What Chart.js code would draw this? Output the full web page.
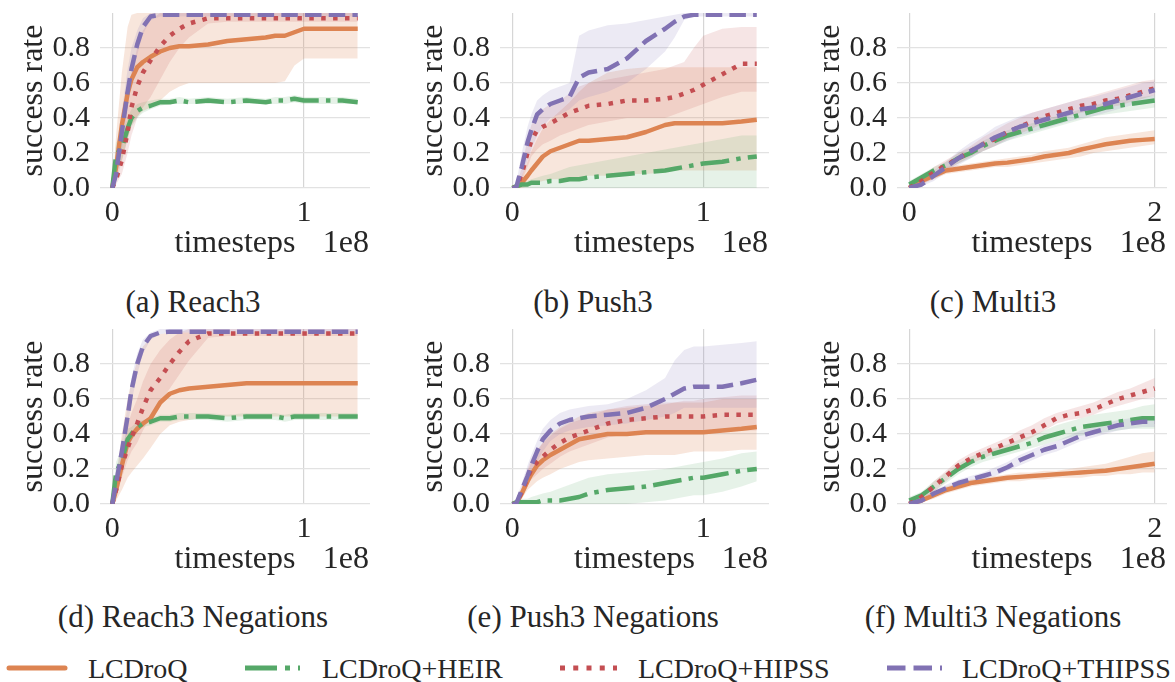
<!DOCTYPE html>
<html>
<head>
<meta charset="utf-8">
<script src="https://cdn.jsdelivr.net/npm/chart.js@4.4.0/dist/chart.umd.min.js"></script>
<style>
  body { margin: 0; background: #fff; width: 1175px; height: 682px; position: relative; overflow: hidden;
         font-family: 'Liberation Serif', 'DejaVu Serif', serif; color: #262626; }
  .cap { position: absolute; width: 400px; text-align: center; font-size: 31px; line-height: 31px; white-space: nowrap; }
  .leg { position: absolute; top: 655px; font-size: 28px; line-height: 28px; white-space: nowrap; }
  svg.key { position: absolute; left: 0; top: 658px; }
</style>
</head>
<body>

<div class="cap" style="left:-7px;top:286px">(a) Reach3</div>
<div class="cap" style="left:393px;top:286px">(b) Push3</div>
<div class="cap" style="left:793px;top:286px">(c) Multi3</div>
<div class="cap" style="left:-7px;top:601px">(d) Reach3 Negations</div>
<div class="cap" style="left:393px;top:601px">(e) Push3 Negations</div>
<div class="cap" style="left:793px;top:601px">(f) Multi3 Negations</div>

<svg class="key" width="1175" height="20">
  <line x1="9" y1="10" x2="65" y2="10" stroke="#dd8452" stroke-width="5" stroke-linecap="round"/>
  <line x1="245" y1="10" x2="300" y2="10" stroke="#55a868" stroke-width="5" stroke-dasharray="32 8 5 8"/>
  <line x1="560" y1="10" x2="617" y2="10" stroke="#c44e52" stroke-width="5" stroke-dasharray="5 8.25"/>
  <line x1="887" y1="10" x2="942" y2="10" stroke="#8172b3" stroke-width="5" stroke-dasharray="18.5 8"/>
</svg>
<div class="leg" style="left:88px">LCDroQ</div>
<div class="leg" style="left:322px">LCDroQ+HEIR</div>
<div class="leg" style="left:638px">LCDroQ+HIPSS</div>
<div class="leg" style="left:962px">LCDroQ+THIPSS</div>

<script>
// timesteps in units of 1e8
var steps = [0, 0.02, 0.05, 0.08, 0.1, 0.13, 0.16, 0.2, 0.25, 0.3, 0.35, 0.4, 0.5, 0.6, 0.7, 0.8, 0.85, 0.9, 0.95, 1.0, 1.1, 1.2, 1.28];
var stepsMulti = [0, 0.1, 0.2, 0.3, 0.4, 0.5, 0.6, 0.7, 0.8, 0.9, 1.0, 1.1, 1.2, 1.3, 1.4, 1.5, 1.6, 1.7, 1.8, 1.9, 2.0];
var yTicks = [0, 0.2, 0.4, 0.6, 0.8];
var methods = ['LCDroQ', 'LCDroQ+HEIR', 'LCDroQ+HIPSS', 'LCDroQ+THIPSS'];

// (a) Reach3
var reachLcd      = [0, .12, .36, .54, .62, .69, .72, .75, .78, .80, .81, .81, .82, .84, .85, .86, .87, .87, .89, .91, .91, .91, .91];
var reachLcdLo    = [0, .04, .15, .28, .36, .41, .44, .46, .50, .55, .58, .60, .60, .60, .60, .60, .60, .61, .70, .74, .74, .74, .74];
var reachLcdHi    = [0, .30, .66, .92, .99, 1, 1, 1, 1, 1, 1, 1, 1, 1, 1, 1, 1, 1, 1, 1, 1, 1, 1];
var reachHeir     = [0, .19, .23, .34, .40, .44, .46, .47, .49, .49, .50, .49, .50, .49, .50, .49, .50, .50, .51, .50, .50, .50, .49];
var reachHeirLo   = [0, .10, .16, .28, .35, .40, .43, .45, .47, .48, .48, .48, .48, .48, .48, .48, .48, .48, .49, .48, .48, .48, .48];
var reachHeirHi   = [0, .26, .30, .40, .45, .48, .49, .50, .51, .51, .52, .51, .52, .51, .52, .51, .52, .52, .53, .52, .52, .52, .51];
var reachHipss    = [0, .05, .16, .32, .46, .58, .66, .73, .81, .87, .91, .94, .97, .97, .97, .97, .97, .97, .97, .97, .97, .97, .97];
var reachHipssLo  = [0, .02, .08, .20, .30, .40, .46, .52, .62, .72, .80, .86, .94, .95, .95, .95, .95, .95, .95, .95, .95, .95, .95];
var reachHipssHi  = [0, .10, .28, .50, .66, .80, .90, .96, 1, 1, 1, 1, 1, 1, 1, 1, 1, 1, 1, 1, 1, 1, 1];
var reachThipss   = [0, .08, .32, .55, .68, .82, .92, .98, .99, .99, .99, .99, .99, .99, .99, .99, .99, .99, .99, .99, .99, .99, .99];
var reachThipssLo = [0, .04, .22, .45, .60, .76, .88, .96, .98, .98, .98, .98, .98, .98, .98, .98, .98, .98, .98, .98, .98, .98, .98];
var reachThipssHi = [0, .14, .44, .68, .80, .90, .97, 1, 1, 1, 1, 1, 1, 1, 1, 1, 1, 1, 1, 1, 1, 1, 1];

// (b) Push3
var pushLcd      = [0, 0, .03, .07, .10, .14, .18, .21, .23, .25, .27, .27, .28, .29, .32, .36, .37, .37, .37, .37, .37, .38, .39];
var pushLcdLo    = [0, 0, 0, .01, .02, .03, .04, .05, .05, .06, .06, .07, .07, .08, .08, .09, .10, .10, .10, .10, .10, .10, .10];
var pushLcdHi    = [0, 0, .07, .15, .21, .28, .34, .39, .44, .49, .55, .60, .66, .68, .69, .69, .69, .69, .69, .69, .69, .69, .69];
var pushHeir     = [0, .01, .02, .02, .03, .03, .03, .04, .04, .05, .05, .06, .07, .08, .09, .10, .11, .12, .13, .14, .15, .17, .18];
var pushHeirLo   = [0, 0, 0, 0, 0, 0, 0, 0, 0, 0, 0, 0, 0, 0, 0, 0, 0, 0, 0, 0, 0, 0, 0];
var pushHeirHi   = [0, .02, .03, .04, .05, .06, .07, .08, .10, .12, .13, .14, .16, .18, .20, .22, .23, .24, .25, .26, .28, .30, .30];
var pushHipss    = [0, 0, .08, .20, .27, .33, .35, .37, .40, .43, .45, .47, .48, .50, .50, .51, .52, .54, .56, .59, .65, .71, .71];
var pushHipssLo  = [0, 0, .04, .12, .18, .22, .25, .27, .30, .32, .34, .36, .38, .40, .40, .40, .42, .44, .46, .48, .52, .55, .55];
var pushHipssHi  = [0, 0, .12, .28, .36, .42, .45, .48, .50, .54, .58, .60, .62, .64, .66, .68, .70, .72, .80, .87, .91, .92, .92];
var pushThipss   = [0, 0, .12, .26, .33, .42, .45, .48, .50, .52, .63, .66, .68, .74, .84, .91, .95, .98, .99, .99, .99, .99, .99];
var pushThipssLo = [0, 0, .06, .16, .22, .30, .35, .40, .42, .45, .50, .52, .55, .60, .68, .78, .86, .96, .98, .98, .98, .98, .98];
var pushThipssHi = [0, .02, .20, .35, .42, .50, .53, .56, .58, .60, .87, .90, .93, .94, .96, .98, .99, 1, 1, 1, 1, 1, 1];

// (c) Multi3
var multiLcd      = [0, .04, .07, .10, .11, .12, .13, .14, .145, .155, .165, .18, .19, .20, .22, .235, .25, .26, .27, .275, .28];
var multiLcdLo    = [0, .02, .05, .08, .09, .10, .11, .12, .12, .13, .14, .15, .16, .17, .18, .20, .21, .22, .23, .24, .25];
var multiLcdHi    = [0, .06, .09, .12, .13, .14, .15, .16, .17, .18, .19, .21, .22, .23, .25, .27, .29, .30, .31, .32, .33];
var multiHeir     = [.02, .06, .10, .13, .17, .20, .24, .27, .30, .32, .34, .36, .38, .40, .42, .44, .46, .47, .48, .49, .50];
var multiHeirLo   = [0, .04, .08, .11, .14, .17, .21, .24, .27, .29, .31, .33, .35, .37, .39, .41, .42, .43, .44, .45, .46];
var multiHeirHi   = [.04, .08, .12, .15, .20, .23, .27, .30, .33, .35, .37, .39, .41, .43, .45, .47, .49, .50, .51, .52, .53];
var multiHipss    = [0, .04, .09, .13, .17, .21, .25, .28, .32, .35, .38, .41, .43, .45, .47, .48, .50, .51, .53, .55, .57];
var multiHipssLo  = [0, .02, .06, .10, .14, .18, .21, .24, .28, .31, .34, .37, .39, .41, .43, .44, .46, .47, .49, .51, .53];
var multiHipssHi  = [0, .06, .12, .16, .20, .24, .29, .33, .37, .40, .43, .45, .47, .49, .51, .53, .55, .57, .59, .61, .62];
var multiThipss   = [0, .02, .07, .12, .17, .21, .25, .29, .32, .35, .37, .39, .41, .43, .45, .46, .48, .50, .52, .54, .56];
var multiThipssLo = [0, .01, .04, .09, .13, .17, .21, .24, .27, .30, .32, .34, .36, .38, .40, .41, .43, .45, .47, .49, .51];
var multiThipssHi = [0, .04, .10, .15, .21, .26, .30, .35, .38, .41, .43, .45, .47, .49, .51, .52, .54, .56, .58, .60, .61];

// (d) Reach3 Negations
var reachNegLcd      = [0, .08, .22, .35, .39, .43, .46, .49, .58, .63, .65, .66, .67, .68, .69, .69, .69, .69, .69, .69, .69, .69, .69];
var reachNegLcdLo    = [0, .02, .08, .15, .18, .22, .26, .32, .40, .45, .47, .48, .50, .50, .50, .50, .50, .50, .50, .50, .50, .50, .50];
var reachNegLcdHi    = [0, .15, .40, .60, .70, .82, .90, .95, .97, .98, .98, .98, .98, .98, .98, .98, .98, .98, .98, .98, .98, .98, .98];
var reachNegHeir     = [0, .18, .25, .37, .40, .44, .46, .47, .49, .49, .50, .50, .50, .49, .50, .50, .50, .49, .50, .50, .50, .50, .50];
var reachNegHeirLo   = [0, .12, .18, .31, .36, .41, .44, .45, .47, .47, .48, .48, .48, .47, .48, .48, .48, .47, .48, .48, .48, .48, .48];
var reachNegHeirHi   = [0, .24, .32, .43, .44, .47, .48, .49, .51, .51, .52, .52, .52, .51, .52, .52, .52, .51, .52, .52, .52, .52, .52];
var reachNegHipss    = [0, .08, .22, .32, .38, .46, .55, .65, .72, .80, .87, .93, .975, .975, .975, .975, .975, .975, .975, .975, .975, .975, .975];
var reachNegHipssLo  = [0, .04, .15, .25, .30, .35, .42, .50, .58, .66, .74, .82, .95, .96, .96, .96, .96, .96, .96, .96, .96, .96, .96];
var reachNegHipssHi  = [0, .12, .30, .45, .52, .60, .70, .80, .88, .94, .98, 1, 1, 1, 1, 1, 1, 1, 1, 1, 1, 1, 1];
var reachNegThipss   = [0, .12, .30, .50, .65, .80, .90, .96, .98, .985, .985, .985, .985, .985, .985, .985, .985, .985, .985, .985, .985, .985, .985];
var reachNegThipssLo = [0, .08, .24, .44, .58, .74, .86, .94, .97, .98, .98, .98, .98, .98, .98, .98, .98, .98, .98, .98, .98, .98, .98];
var reachNegThipssHi = [0, .16, .36, .56, .72, .86, .94, .98, 1, 1, 1, 1, 1, 1, 1, 1, 1, 1, 1, 1, 1, 1, 1];

// (e) Push3 Negations
var pushNegLcd      = [0, 0, .06, .13, .17, .22, .25, .28, .31, .34, .37, .38, .40, .40, .41, .41, .41, .41, .41, .41, .42, .43, .44];
var pushNegLcdLo    = [0, 0, .03, .08, .10, .13, .15, .17, .20, .22, .24, .25, .26, .27, .28, .28, .28, .29, .30, .30, .30, .31, .31];
var pushNegLcdHi    = [0, 0, .09, .18, .24, .30, .35, .40, .44, .47, .50, .52, .54, .55, .56, .57, .58, .58, .58, .58, .60, .60, .60];
var pushNegHeir     = [0, .01, .01, .01, .01, .01, .02, .02, .02, .03, .04, .06, .08, .09, .10, .12, .13, .14, .15, .15, .17, .19, .20];
var pushNegHeirLo   = [0, 0, 0, 0, 0, 0, 0, 0, 0, 0, 0, 0, 0, 0, .01, .02, .03, .04, .05, .05, .07, .10, .13];
var pushNegHeirHi   = [0, .02, .03, .03, .04, .05, .06, .07, .09, .11, .13, .15, .17, .18, .19, .20, .21, .22, .23, .24, .26, .29, .30];
var pushNegHipss    = [0, 0, .07, .15, .20, .24, .27, .31, .35, .38, .40, .42, .46, .48, .49, .50, .50, .50, .50, .50, .51, .51, .51];
var pushNegHipssLo  = [0, 0, .04, .10, .14, .17, .20, .23, .27, .30, .32, .34, .38, .40, .41, .42, .42, .42, .42, .42, .42, .42, .42];
var pushNegHipssHi  = [0, 0, .10, .20, .26, .31, .35, .39, .43, .46, .48, .50, .54, .56, .57, .58, .58, .59, .59, .60, .61, .62, .62];
var pushNegThipss   = [0, 0, .08, .16, .22, .30, .37, .42, .46, .48, .49, .50, .51, .52, .55, .60, .63, .66, .67, .67, .67, .69, .71];
var pushNegThipssLo = [0, 0, .05, .12, .17, .24, .30, .36, .40, .42, .43, .44, .45, .46, .48, .50, .52, .55, .55, .55, .55, .55, .55];
var pushNegThipssHi = [0, .02, .12, .22, .28, .36, .43, .48, .52, .54, .55, .56, .57, .60, .65, .72, .82, .88, .90, .90, .91, .92, .93];

// (f) Multi3 Negations
var multiNegLcd      = [0, .02, .05, .08, .10, .12, .13, .14, .15, .155, .16, .165, .17, .175, .18, .185, .19, .20, .21, .22, .23];
var multiNegLcdLo    = [0, .01, .03, .06, .08, .10, .11, .12, .13, .13, .14, .14, .15, .15, .15, .16, .16, .17, .17, .18, .18];
var multiNegLcdHi    = [0, .04, .07, .10, .12, .14, .15, .16, .17, .18, .18, .19, .19, .20, .21, .22, .23, .25, .27, .29, .30];
var multiNegHeir     = [.02, .05, .10, .15, .20, .24, .27, .29, .31, .33, .35, .38, .40, .42, .44, .45, .46, .47, .48, .49, .49];
var multiNegHeirLo   = [0, .03, .07, .12, .17, .21, .24, .26, .28, .30, .32, .34, .36, .38, .39, .40, .41, .42, .43, .43, .43];
var multiNegHeirHi   = [.04, .07, .13, .18, .23, .27, .30, .32, .34, .37, .39, .42, .45, .47, .49, .51, .52, .53, .54, .56, .57];
var multiNegHipss    = [0, .04, .10, .16, .22, .26, .29, .32, .35, .38, .41, .45, .49, .51, .52, .54, .57, .60, .62, .64, .66];
var multiNegHipssLo  = [0, .02, .07, .13, .19, .23, .26, .29, .32, .35, .38, .42, .46, .48, .49, .51, .54, .56, .58, .60, .61];
var multiNegHipssHi  = [0, .06, .13, .19, .25, .29, .32, .35, .38, .42, .45, .49, .52, .54, .56, .58, .61, .64, .66, .69, .72];
var multiNegThipss   = [0, .02, .06, .09, .12, .14, .16, .18, .21, .25, .28, .31, .33, .36, .39, .41, .43, .45, .46, .47, .47];
var multiNegThipssLo = [0, .01, .04, .07, .10, .12, .14, .16, .19, .22, .25, .28, .30, .33, .36, .38, .40, .42, .43, .44, .44];
var multiNegThipssHi = [0, .03, .08, .11, .14, .16, .18, .21, .24, .28, .31, .34, .36, .39, .42, .44, .46, .48, .49, .50, .50];

var colors = ['#dd8452', '#55a868', '#c44e52', '#8172b3'];
var fills = ['rgba(221,132,82,0.2)', 'rgba(85,168,104,0.15)', 'rgba(196,78,82,0.15)', 'rgba(129,114,179,0.15)'];
var dashes = [[], [28.8, 7.2, 4.5, 7.2], [4.5, 7.4], [16.5, 7.2]];
var serif = "'Liberation Serif', 'DejaVu Serif', serif";

// one entry per subplot; left/top are the canvas position on the page
var panels = [
  {left: 0,   top: 0,   width: 380, padRight: 10, xs: steps, xMin: -0.064, xMax: 1.344, xTicks: [0, 1],
   mean: [reachLcd, reachHeir, reachHipss, reachThipss],
   lo: [reachLcdLo, reachHeirLo, reachHipssLo, reachThipssLo],
   hi: [reachLcdHi, reachHeirHi, reachHipssHi, reachThipssHi]},
  {left: 400, top: 0,   width: 379, padRight: 10, xs: steps, xMin: -0.064, xMax: 1.344, xTicks: [0, 1],
   mean: [pushLcd, pushHeir, pushHipss, pushThipss],
   lo: [pushLcdLo, pushHeirLo, pushHipssLo, pushThipssLo],
   hi: [pushLcdHi, pushHeirHi, pushHipssHi, pushThipssHi]},
  {left: 797, top: 0,   width: 376, padRight: 6, xs: stepsMulti, xMin: -0.1, xMax: 2.1, xTicks: [0, 2],
   mean: [multiLcd, multiHeir, multiHipss, multiThipss],
   lo: [multiLcdLo, multiHeirLo, multiHipssLo, multiThipssLo],
   hi: [multiLcdHi, multiHeirHi, multiHipssHi, multiThipssHi]},
  {left: 0,   top: 316, width: 380, padRight: 10, xs: steps, xMin: -0.064, xMax: 1.344, xTicks: [0, 1],
   mean: [reachNegLcd, reachNegHeir, reachNegHipss, reachNegThipss],
   lo: [reachNegLcdLo, reachNegHeirLo, reachNegHipssLo, reachNegThipssLo],
   hi: [reachNegLcdHi, reachNegHeirHi, reachNegHipssHi, reachNegThipssHi]},
  {left: 400, top: 316, width: 379, padRight: 10, xs: steps, xMin: -0.064, xMax: 1.344, xTicks: [0, 1],
   mean: [pushNegLcd, pushNegHeir, pushNegHipss, pushNegThipss],
   lo: [pushNegLcdLo, pushNegHeirLo, pushNegHipssLo, pushNegThipssLo],
   hi: [pushNegLcdHi, pushNegHeirHi, pushNegHipssHi, pushNegThipssHi]},
  {left: 797, top: 316, width: 376, padRight: 6, xs: stepsMulti, xMin: -0.1, xMax: 2.1, xTicks: [0, 2],
   mean: [multiNegLcd, multiNegHeir, multiNegHipss, multiNegThipss],
   lo: [multiNegLcdLo, multiNegHeirLo, multiNegHipssLo, multiNegThipssLo],
   hi: [multiNegLcdHi, multiNegHeirHi, multiNegHipssHi, multiNegThipssHi]}
];

// axis titles and the 1e8 offset text, placed relative to the plot area
var axisText = {
  id: 'axisText',
  afterDraw: function (chart) {
    var ctx = chart.ctx, a = chart.chartArea;
    ctx.save();
    ctx.fillStyle = '#262626';
    ctx.font = '32px ' + serif;
    ctx.textBaseline = 'alphabetic';
    ctx.textAlign = 'center';
    ctx.fillText('timesteps', (a.left + a.right) / 2, a.bottom + 64);
    ctx.textAlign = 'right';
    ctx.fillText('1e8', a.right - 1, a.bottom + 64);
    ctx.translate(a.left - 58, (a.top + a.bottom) / 2);
    ctx.rotate(-Math.PI / 2);
    ctx.textAlign = 'center';
    ctx.fillText('success rate', 0, 0);
    ctx.restore();
  }
};

function pts(xs, ys) {
  return ys.map(function (y, i) { return {x: xs[i], y: y}; });
}

function drawPanel(p) {
  var canvas = document.createElement('canvas');
  canvas.width = p.width;
  canvas.height = 270;
  canvas.style.cssText = 'position:absolute;left:' + p.left + 'px;top:' + p.top + 'px;width:' + p.width + 'px;height:270px';
  document.body.appendChild(canvas);

  var datasets = [];
  // mean curves first so they sit above the bands; THIPSS on top
  [3, 2, 1, 0].forEach(function (k) {
    datasets.push({label: methods[k], data: pts(p.xs, p.mean[k]), borderColor: colors[k], borderWidth: 4.5,
      borderDash: dashes[k], borderJoinStyle: 'round', pointRadius: 0, fill: false, tension: 0});
  });
  [3, 2, 1, 0].forEach(function (k) {
    datasets.push({data: pts(p.xs, p.hi[k]), borderColor: 'rgba(0,0,0,0)', borderWidth: 1, pointRadius: 0,
      fill: '+1', backgroundColor: fills[k], tension: 0});
    datasets.push({data: pts(p.xs, p.lo[k]), borderColor: 'rgba(0,0,0,0)', borderWidth: 1, pointRadius: 0,
      fill: false, tension: 0});
  });

  new Chart(canvas, {
    type: 'line',
    data: {datasets: datasets},
    options: {
      responsive: false,
      animation: false,
      devicePixelRatio: 1,
      layout: {padding: {top: 13, right: p.padRight, bottom: 0, left: 0}},
      plugins: {legend: {display: false}, tooltip: {enabled: false}},
      scales: {
        x: {
          type: 'linear', min: p.xMin, max: p.xMax,
          afterBuildTicks: function (s) { s.ticks = p.xTicks.map(function (v) { return {value: v}; }); },
          afterFit: function (s) { s.height = 82; s.paddingLeft = 0; s.paddingRight = 0; },
          ticks: {font: {family: serif, size: 30}, color: '#262626', padding: 7, maxRotation: 0,
                  callback: function (v) { return String(v); }},
          grid: {color: '#d6d6d6', lineWidth: 1.2, drawTicks: false},
          border: {display: false}
        },
        y: {
          min: 0, max: 1,
          afterBuildTicks: function (s) { s.ticks = yTicks.map(function (v) { return {value: v}; }); },
          afterFit: function (s) { s.width = 100; s.paddingTop = 0; s.paddingBottom = 0; },
          ticks: {font: {family: serif, size: 30}, color: '#262626', padding: 10,
                  callback: function (v) { return v.toFixed(1); }},
          grid: {color: '#e2e2e2', lineWidth: 1.3, drawTicks: false},
          border: {display: false}
        }
      }
    },
    plugins: [axisText]
  });
}

panels.forEach(drawPanel);
</script>
</body>
</html>
